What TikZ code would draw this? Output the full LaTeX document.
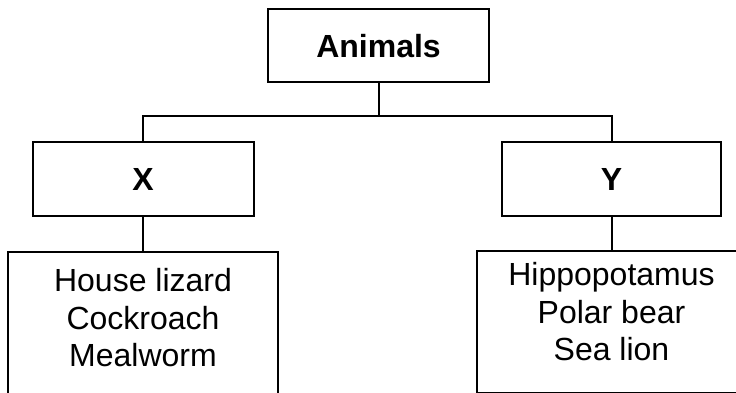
\documentclass[tikz,border=0pt]{standalone}
\usepackage{fontspec}
\setmainfont{Liberation Sans}
\usepackage{tikz}
\usetikzlibrary{positioning}
\tikzstyle{head} = [draw=black, line width=2pt, font=\fontsize{32}{38}\selectfont\bfseries, minimum height=73pt]
\tikzstyle{list} = [draw=black, line width=2pt, font=\fontsize{32}{37.5}\selectfont, align=center, minimum width=270pt]
\tikzstyle{link} = [draw=black, line width=2pt]
\newcommand{\lastline}{\rule[-20pt]{0pt}{20pt}}

\begin{document}
\begin{tikzpicture}[x=1pt, y=-1pt, node distance=34pt]
    \useasboundingbox (0,0) rectangle (736,393);
    \clip (0,0) rectangle (736,393);
    \node (animals) [head, minimum width=221pt] at (378.5,46) {Animals};
    \node (x) [head, minimum width=221pt] at (143,179) {X};
    \node (y) [head, minimum width=219pt] at (611.5,179) {Y};
    \node (listx) [list, minimum height=152pt, below=of x] {House lizard\\Cockroach\\Mealworm\lastline};
    \node (listy) [list, minimum height=142pt, below=33pt of y] {Hippopotamus\\Polar bear\\Sea lion\lastline};
    \coordinate (fork) at (378.5,116);
    \path[link] (animals) -- (fork);
    \path[link] (fork) -| (x);
    \path[link] (fork) -| (y);
    \path[link] (x) -- (listx);
    \path[link] (y) -- (listy);
\end{tikzpicture}
\end{document}
